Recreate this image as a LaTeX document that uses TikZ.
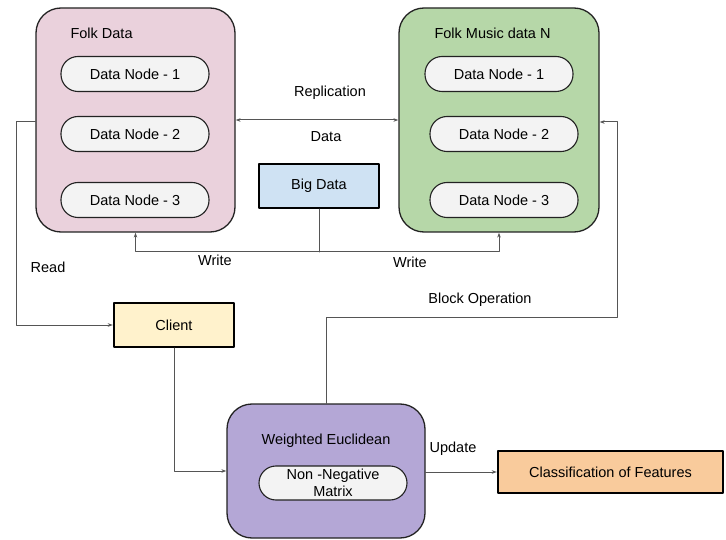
\documentclass[tikz,border=0pt]{standalone}
\usepackage{fontspec}
\setmainfont{Liberation Sans}
\usepackage{xcolor}
\usepackage{tikz}
\usetikzlibrary{arrows.meta,calc}
\definecolor{pinkfill}{HTML}{EAD1DC}
\definecolor{greenfill}{HTML}{B6D7A8}
\definecolor{purplefill}{HTML}{B4A7D6}
\definecolor{bluefill}{HTML}{CFE2F3}
\definecolor{yellowfill}{HTML}{FFF2CC}
\definecolor{orangefill}{HTML}{F9CB9C}
\definecolor{pillfill}{HTML}{F3F3F3}
\definecolor{edge}{HTML}{222222}
\definecolor{wire}{HTML}{555555}
\tikzset{
  cont/.style={draw=edge, line width=1.3pt, rounded corners=25pt, inner sep=0pt},
  pill/.style={draw=edge, line width=1.1pt, fill=pillfill, rounded corners=17pt,
    minimum width=148pt, minimum height=35pt, inner sep=0pt},
  boxA/.style={draw=black, line width=2.4pt, inner sep=0pt},
  lab/.style={text=black},
  conn/.style={draw=wire, line width=1pt},
  arr/.style={conn, -{Stealth[length=5pt,width=3.5pt]}},
  darr/.style={conn, {Stealth[length=5pt,width=3.5pt]}-{Stealth[length=5pt,width=3.5pt]}}
}

\begin{document}
\begin{tikzpicture}[x=1pt, y=-1pt, line cap=round, line join=round,
    every node/.style={font=\fontsize{14.5}{17}\selectfont}]
  \useasboundingbox (0,0) rectangle (726,540);
  % containers
  \node[cont, fill=pinkfill, minimum width=199pt, minimum height=224pt] (fd) at (135.5,120) {};
  \node[cont, fill=greenfill, minimum width=200pt, minimum height=224pt] (fm) at (499,120) {};
  \node[cont, fill=purplefill, minimum width=198pt, minimum height=134pt] (we) at (326,471) {};
  \node[lab, anchor=west] at (67,33) {Folk Data};
  \node[lab, anchor=west] at (431,33) {Folk Music data N};
  \node[lab] at (326,441) {Weighted Euclidean};
  % data nodes
  \node[pill] (fd1) at (135,74) {Data Node - 1};
  \node[pill] (fd2) at (135,134) {Data Node - 2};
  \node[pill] (fd3) at (135,200) {Data Node - 3};
  \node[pill] (fm1) at (499,74) {Data Node - 1};
  \node[pill] (fm2) at (504,134) {Data Node - 2};
  \node[pill] (fm3) at (504,200) {Data Node - 3};
  \node[pill, align=center, minimum height=34pt] (nnm) at (333,483) {Non -Negative\\Matrix};
  % boxes
  \node[boxA, fill=bluefill, minimum width=120pt, minimum height=44pt] (big) at (319,186) {Big Data};
  \node[boxA, fill=yellowfill, minimum width=120pt, minimum height=44pt] (client) at (174,325) {Client};
  \node[boxA, fill=orangefill, minimum width=225pt, minimum height=42pt] (cls) at (610.5,472) {Classification of Features};
  % connectors
  \coordinate (wj) at (319,252);
  \coordinate (bk) at (617,317);
  \draw[darr] (fd.east) -- (fm.west);
  \draw[conn] (big.south) -- (wj);
  \draw[arr] (wj) -| (fd.south);
  \draw[arr] (wj) -| (fm.south);
  \draw[arr] ([yshift=-2pt]fd.west) -- ++(-19,0) |- (client.west);
  \draw[arr] (client.south) |- (we.west);
  \draw[arr] (we.north) |- (bk) |- ([yshift=-2pt]fm.east);
  \draw[arr] (we.east |- cls.west) -- (cls.west);
  % labels
  \node[lab] at (330,93) {Replication};
  \node[lab] at (326,137) {Data};
  \node[lab] at (215,260) {Write};
  \node[lab] at (410,262) {Write};
  \node[lab] at (48,267) {Read};
  \node[lab] at (480,300) {Block Operation};
  \node[lab] at (453,449) {Update};
\end{tikzpicture}
\end{document}
